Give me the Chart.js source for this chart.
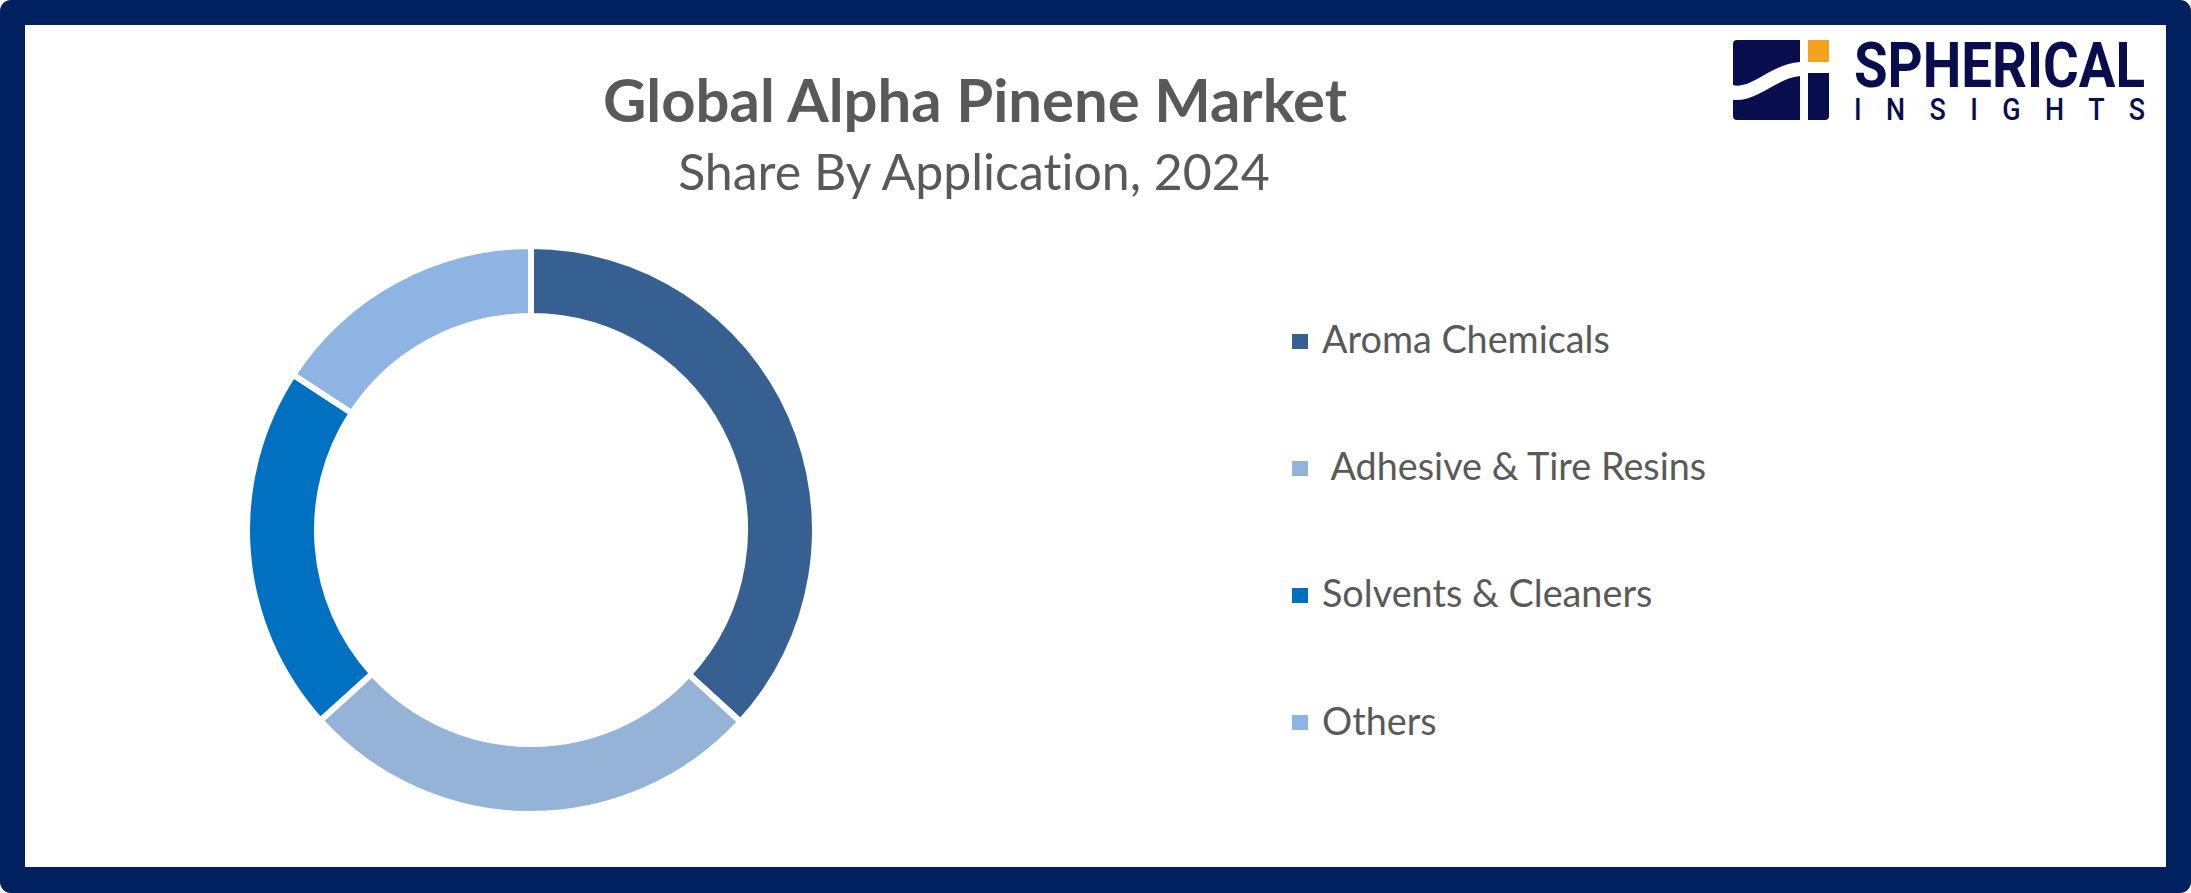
<!DOCTYPE html>
<html>
<head>
<meta charset="utf-8">
<script src="https://cdn.jsdelivr.net/npm/chart.js@4.4.1/dist/chart.umd.min.js"></script>
<style>
  html, body { margin: 0; padding: 0; background: #ffffff; width: 2191px; height: 893px; overflow: hidden; }
  #frame { position: absolute; left: 0; top: 0; width: 2191px; height: 893px; background: #002060; border-radius: 11px; }
  #inner { position: absolute; left: 25px; top: 25px; width: 2141px; height: 842px; background: #ffffff; }
  #donutWrap { position: absolute; left: 244px; top: 243px; width: 574px; height: 574px; }
  .txt { position: absolute; white-space: pre; line-height: 1; font-variant-ligatures: none; font-feature-settings: "liga" 0, "clig" 0; }
  .sq { position: absolute; width: 16px; height: 15px; }
  #logoIcon { position: absolute; left: 1733px; top: 40px; }
  #logoText { position: absolute; left: 1854px; top: 30px; white-space: pre; font-family: Roboto; font-weight: 500;
              font-size: 31px; line-height: 33px; color: #070d4d; transform-origin: 0 0; }
  #logoText::first-line { font-size: 63px; font-weight: 700; letter-spacing: 0px; }
</style>
</head>
<body>
<div id="frame"></div>
<div id="inner"></div>
<div id="donutWrap"><canvas id="chart" width="574" height="574"></canvas></div>
<svg id="logoIcon" width="96" height="80" viewBox="0 0 96 80">
  <path d="M4,0 H67 V80 H4 Q0,80 0,76 V4 Q0,0 4,0 Z" fill="#070d4d"/>
  <rect x="75" y="0" width="21" height="22" fill="#f5a21f"/>
  <path d="M75,33 H96 V76 Q96,80 92,80 H75 Z" fill="#070d4d"/>
  <path d="M0,45 C18,50 38,24 67,22 L67,36 C44,38 24,62 0,60 Z" fill="#ffffff"/>
</svg>
<script>
// ---- data ----
const categories = ["Aroma Chemicals", " Adhesive & Tire Resins", "Solvents & Cleaners", "Others"];
const shares = [36.8, 26.5, 20.9, 15.8];
const titleText = "Global Alpha Pinene Market";
const subtitleText = "Share By Application, 2024";
const logoTop = "SPHERICAL";
const logoBottom = "INSIGHTS";

// ---- styles ----
const sliceColors = ["#376092", "#95b3d7", "#0070c0", "#8eb4e3"];
const textColor = "#595959";

function makeMarker() {
  const m = document.createElement('span');
  m.style.cssText = 'display:inline-block;width:0;height:0;';
  return m;
}

function placeText(text, o) {
  const el = document.createElement('div');
  el.className = 'txt';
  el.appendChild(document.createTextNode(text));
  const m = makeMarker();
  el.appendChild(m);
  el.style.fontFamily = o.font;
  el.style.fontWeight = o.weight || 'normal';
  el.style.color = o.color;
  let size = o.size;
  el.style.fontSize = size + 'px';
  document.body.appendChild(el);
  const textW = () => {
    const r = document.createRange();
    r.selectNodeContents(el.firstChild);
    return r.getBoundingClientRect().width;
  };
  if (o.fitWidth) {
    size = size * o.fitWidth / textW();
    el.style.fontSize = size + 'px';
  }
  const w2 = textW();
  const off = m.getBoundingClientRect().top - el.getBoundingClientRect().top;
  el.style.top = (o.baseline - off) + 'px';
  el.style.left = (o.align === 'center' ? o.x - w2 / 2 : o.x) + 'px';
  return size;
}

// titles
placeText(titleText, { font: 'Lato', weight: 'bold', color: textColor, size: 56, fitWidth: 744, x: 975, align: 'center', baseline: 122 });
placeText(subtitleText, { font: 'Lato', weight: 'normal', color: textColor, size: 48, fitWidth: 592, x: 974, align: 'center', baseline: 190 });

// logo text: one text block, two lines
(function () {
  const el = document.createElement('div');
  el.id = 'logoText';
  const m1 = makeMarker(), m2 = makeMarker();
  const tn = document.createTextNode(logoTop + "\n" + logoBottom);
  el.appendChild(m1); el.appendChild(tn); el.appendChild(m2);
  document.body.appendChild(el);
  const rangeW = (a, b) => { const r = document.createRange(); r.setStart(tn, a); r.setEnd(tn, b); return r.getBoundingClientRect().width; };
  const n1 = logoTop.length, n2 = logoBottom.length;
  const targetW = 291;
  const w1 = rangeW(0, n1);
  const s = targetW / w1;
  const w2 = rangeW(n1 + 1, n1 + 1 + n2);
  const ls = (targetW / s - w2) / (n2 - 1);
  el.style.letterSpacing = ls + 'px';
  el.style.transform = 'scaleX(' + s + ')';
  // adjust line spacing so baselines fall at 87 and 120
  let lh = 33;
  for (let k = 0; k < 4; k++) {
    const d = m2.getBoundingClientRect().top - m1.getBoundingClientRect().top;
    lh += (33 - d);
    el.style.lineHeight = lh + 'px';
  }
  const off = m1.getBoundingClientRect().top - el.getBoundingClientRect().top;
  el.style.top = (87 - off) + 'px';
})();

// legend (HTML, built from the data arrays)
const legendBaselines = [353, 480, 607, 735];
const legendSquareTops = [334, 461, 588, 715];
let legendSize;
(function () {
  const probe = document.createElement('span');
  probe.className = 'txt';
  probe.style.fontFamily = 'Lato';
  probe.style.fontSize = '40px';
  probe.textContent = categories[0];
  document.body.appendChild(probe);
  const w = probe.getBoundingClientRect().width;
  legendSize = 40 * 288 / w;
  probe.remove();
})();
categories.forEach((c, i) => {
  const sq = document.createElement('div');
  sq.className = 'sq';
  sq.style.left = '1292px';
  sq.style.top = legendSquareTops[i] + 'px';
  sq.style.background = sliceColors[i];
  document.body.appendChild(sq);
  placeText(c, { font: 'Lato', color: textColor, size: legendSize, x: 1322, baseline: legendBaselines[i] });
});

// donut
new Chart(document.getElementById('chart'), {
  type: 'doughnut',
  data: {
    labels: categories,
    datasets: [{
      data: shares,
      backgroundColor: sliceColors,
      borderColor: '#ffffff',
      borderWidth: 6,
      hoverBorderWidth: 6,
      hoverOffset: 0
    }]
  },
  options: {
    responsive: false,
    animation: false,
    cutout: '75.35%',
    layout: { padding: 0 },
    plugins: {
      legend: { display: false },
      tooltip: { enabled: false }
    },
    events: []
  }
});
</script>
</body>
</html>
